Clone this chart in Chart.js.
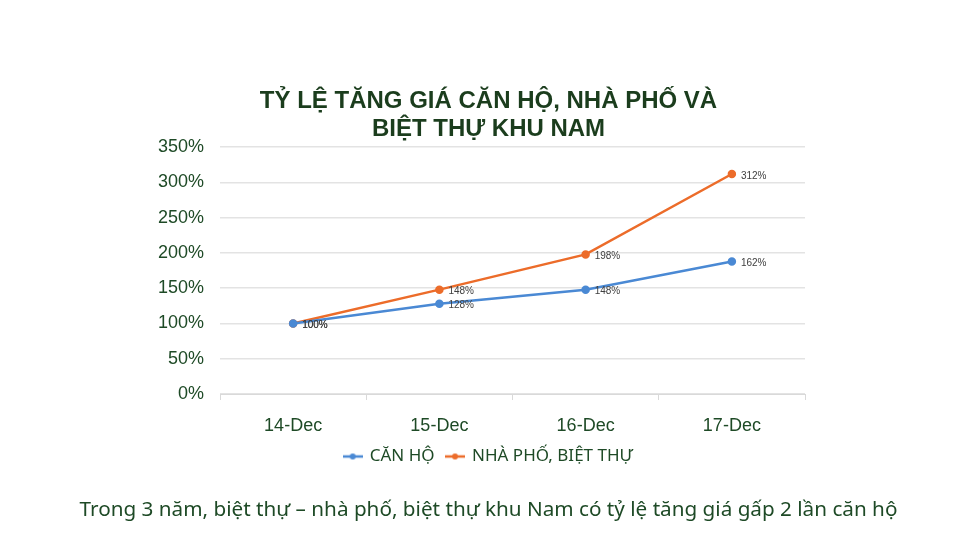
<!DOCTYPE html>
<html>
<head>
<meta charset="utf-8">
<script src="https://cdn.jsdelivr.net/npm/chart.js@4/dist/chart.umd.min.js"></script>
<style>
  html, body { margin: 0; padding: 0; background: #fff; }
  #wrap { position: relative; width: 960px; height: 541px; }
  #caption {
    position: absolute; left: 0; top: 494px; width: 977px; text-align: center;
    font-family: "Noto Sans", sans-serif; font-size: 20.7px; color: #1e4a26;
  }
</style>
</head>
<body>
<div id="wrap">
  <canvas id="chart" width="960" height="541"></canvas>
  <div id="caption">Trong 3 năm, biệt thự – nhà phố, biệt thự khu Nam có tỷ lệ tăng giá gấp 2 lần căn hộ</div>
</div>
<script>
const categories = ['14-Dec', '15-Dec', '16-Dec', '17-Dec'];
const canHo = [100, 128, 148, 188];
const nhaPho = [100, 148, 198, 312];
const canHoLabels = ['100%', '128%', '148%', '162%'];
const nhaPhoLabels = ['100%', '148%', '198%', '312%'];

const BLUE = '#4a89d4';
const ORANGE = '#ec6c2a';
const GREEN = '#1e4a26';

// small legend marker: line with a dot in the middle
function marker(color) {
  const c = document.createElement('canvas');
  c.width = 20; c.height = 8;
  const g = c.getContext('2d');
  g.strokeStyle = color; g.lineWidth = 2.5;
  g.beginPath(); g.moveTo(0, 4); g.lineTo(20, 4); g.stroke();
  g.fillStyle = color;
  g.beginPath(); g.arc(10, 4, 3, 0, Math.PI * 2); g.fill();
  return c;
}

const pointLabels = {
  id: 'pointLabels',
  afterDatasetsDraw(chart) {
    const ctx = chart.ctx;
    ctx.save();
    ctx.font = '10px "Liberation Sans", Arial, sans-serif';
    ctx.fillStyle = '#404040';
    ctx.textBaseline = 'middle';
    chart.data.datasets.forEach((ds, i) => {
      chart.getDatasetMeta(i).data.forEach((pt, j) => {
        ctx.fillText(ds.valueLabels[j], pt.x + 9, pt.y + 2);
      });
    });
    ctx.restore();
  }
};

// title and legend sit a little right of the plot centre in the original
const shiftBlocks = {
  id: 'shiftBlocks',
  afterLayout(chart) {
    [chart.titleBlock, chart.legend].forEach(b => {
      if (b) { b.left += 16; b.right += 16; }
    });
  }
};

new Chart(document.getElementById('chart'), {
  type: 'line',
  data: {
    labels: categories,
    datasets: [
      {
        label: 'CĂN HỘ',
        data: canHo,
        valueLabels: canHoLabels,
        borderColor: BLUE,
        backgroundColor: BLUE,
        borderWidth: 2.5,
        pointRadius: 3,
        pointStyle: 'circle',
        tension: 0
      },
      {
        label: 'NHÀ PHỐ, BIỆT THỰ',
        data: nhaPho,
        valueLabels: nhaPhoLabels,
        borderColor: ORANGE,
        backgroundColor: ORANGE,
        borderWidth: 2.5,
        pointRadius: 3,
        pointStyle: 'circle',
        tension: 0
      }
    ]
  },
  options: {
    responsive: false,
    animation: false,
    layout: { padding: { top: 88, left: 140, right: 155, bottom: 66 } },
    plugins: {
      title: {
        display: true,
        text: ['TỶ LỆ TĂNG GIÁ CĂN HỘ, NHÀ PHỐ VÀ', 'BIỆT THỰ KHU NAM'],
        color: '#1b3d1d',
        font: { family: '"Liberation Sans", Arial, sans-serif', size: 24, weight: 'bold', lineHeight: 1.15 },
        padding: { top: 0, bottom: 4 }
      },
      legend: {
        position: 'bottom',
        labels: {
          usePointStyle: true,
          color: GREEN,
          font: { family: '"Noto Sans", sans-serif', size: 17 },
          padding: 12,
          generateLabels(chart) {
            return chart.data.datasets.map((ds, i) => ({
              text: ds.label,
              pointStyle: marker(ds.borderColor),
              fontColor: GREEN,
              datasetIndex: i,
              lineWidth: 0
            }));
          }
        }
      },
      tooltip: { enabled: false }
    },
    scales: {
      x: {
        offset: true,
        afterFit(scale) { scale.height = 42; },
        grid: { display: true, drawOnChartArea: false, drawTicks: true, tickLength: 6, color: '#d9d9d9', offset: true },
        border: { display: true, color: '#d9d9d9' },
        ticks: {
          color: GREEN,
          padding: 15,
          font: { family: '"Liberation Sans", Arial, sans-serif', size: 18 }
        }
      },
      y: {
        min: 0,
        max: 350,
        afterFit(scale) { scale.width = 80; },
        grid: { color: '#e3e3e3', lineWidth: 1.5, drawTicks: false },
        border: { display: false },
        ticks: {
          stepSize: 50,
          padding: 16,
          color: GREEN,
          font: { family: '"Liberation Sans", Arial, sans-serif', size: 18 },
          callback: v => v + '%'
        }
      }
    }
  },
  plugins: [pointLabels, shiftBlocks]
});
</script>
</body>
</html>
